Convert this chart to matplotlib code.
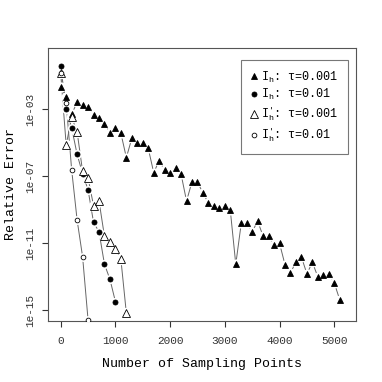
import numpy as np
import matplotlib
matplotlib.use('Agg')
import matplotlib.pyplot as plt

plt.rcParams['font.family'] = ['Liberation Mono', 'DejaVu Sans']
plt.rcParams['mathtext.fontset'] = 'custom'
plt.rcParams['mathtext.rm'] = 'Liberation Mono'
plt.rcParams['mathtext.it'] = 'Liberation Mono'

# Data (log10 of relative error)
x_tri = np.arange(0, 5200, 100)
e_tri = [-1.65, -2.25, -3.28, -2.58, -2.74, -2.88, -3.34, -3.49, -3.86, -4.40,
         -4.14, -4.43, -5.88, -4.73, -5.03, -5.03, -5.33, -6.78, -6.07, -6.64,
         -6.83, -6.49, -6.87, -8.48, -7.33, -7.36, -7.99, -8.62, -8.76, -8.90,
         -8.78, -9.04, -12.26, -9.81, -9.81, -10.32, -9.68, -10.59, -10.59, -11.13,
         -11.01, -12.29, -12.77, -12.13, -11.83, -12.83, -12.15, -13.01, -12.89, -12.83,
         -13.38, -14.38]

x_circ = np.arange(0, 1100, 100)
e_circ = [-0.41, -2.96, -4.10, -5.69, -6.84, -7.81, -9.75, -10.32, -12.26, -13.16, -14.50]

x_otri = np.arange(0, 1300, 100)
e_otri = [-0.85, -5.13, -3.47, -4.35, -6.70, -7.10, -8.75, -8.47, -10.60, -10.94,
          -11.36, -11.96, -15.19]

x_ocirc = np.arange(0, 600, 100)
e_ocirc = [-0.83, -2.60, -6.61, -9.62, -11.81, -15.59]

labels = [r'$\mathrm{I}_{\mathrm{h}}$: τ=0.001', r'$\mathrm{I}_{\mathrm{h}}$: τ=0.01',
          r'$\mathrm{I}_{\mathrm{h}}^{\prime}$: τ=0.001', r'$\mathrm{I}_{\mathrm{h}}^{\prime}$: τ=0.01']

fig = plt.figure(figsize=(3.82, 3.82), dpi=100)
ax = fig.add_axes([0.1257, 0.1605, 0.8063, 0.7135])

series = [
    (x_tri, e_tri, '^', 'black', 4.3),
    (x_circ, e_circ, 'o', 'black', 3.6),
    (x_otri, e_otri, '^', 'white', 5.2),
    (x_ocirc, e_ocirc, 'o', 'white', 3.4),
]

handles = []
for (xs, es, m, fc, ms), lab in zip(series, labels):
    ys = 10.0 ** np.array(es)
    ax.plot(xs, ys, color='#666666', lw=0.7, zorder=1)
    ax.plot(xs, ys, ls='none', marker='o', ms=ms + 3, mfc='white', mec='none', zorder=2)
    h, = ax.plot(xs, ys, ls='none', marker=m, ms=ms, mfc=fc, mec='black', mew=0.6,
                 zorder=3, label=lab)
    handles.append(h)

ax.set_yscale('log')
ax.set_xlim(-232, 5398)
ax.set_ylim(10 ** -15.636, 10 ** 0.664)

ax.set_xticks([0, 1000, 2000, 3000, 4000, 5000])
ax.set_yticks([1e-3, 1e-7, 1e-11, 1e-15])
ax.set_yticklabels(['1e-03', '1e-07', '1e-11', '1e-15'], rotation=90, va='center')
ax.minorticks_off()
ax.tick_params(direction='out', length=4, width=0.8, labelsize=8, colors='#333333')
ax.tick_params(axis='x', pad=7)
ax.tick_params(axis='y', pad=5)
for s in ax.spines.values():
    s.set_color('#555555')
    s.set_linewidth(0.8)

ax.set_xlabel('Number of Sampling Points', fontsize=9.5, labelpad=9)
ax.set_ylabel('Relative Error', fontsize=9.5, labelpad=6)

leg = ax.legend(handles=handles, loc='upper left', bbox_to_anchor=(0.627, 0.956),
                borderaxespad=0, fontsize=8.5, frameon=True, fancybox=False,
                edgecolor='#555555', handlelength=0.6, handletextpad=0.3,
                labelspacing=0.2, borderpad=0.8)
leg.get_frame().set_linewidth(0.8)

fig.savefig('out.png', dpi=100)
